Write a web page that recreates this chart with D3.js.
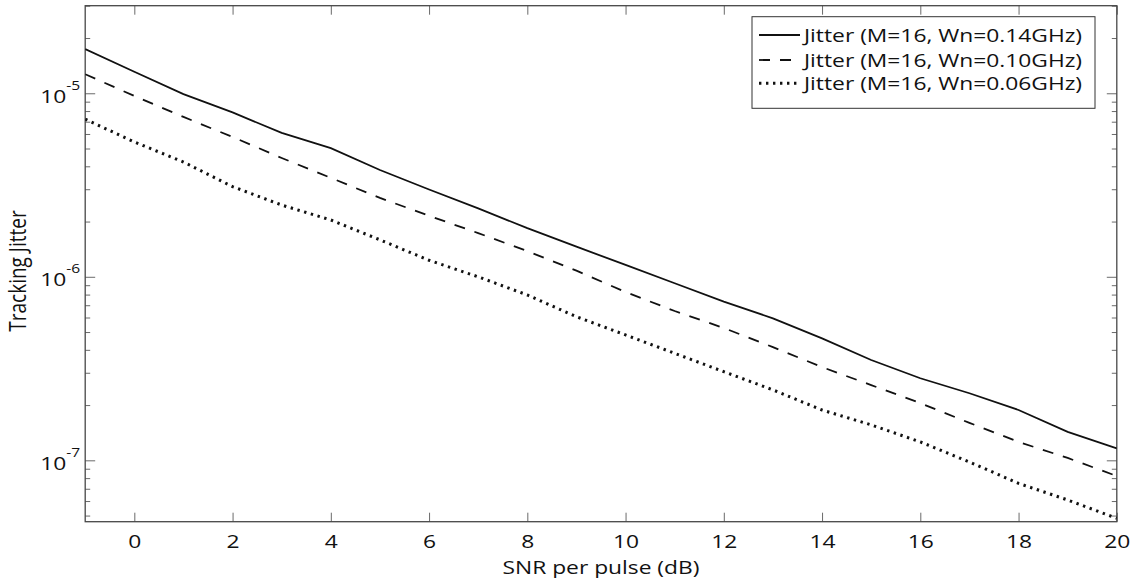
<!DOCTYPE html>
<html><head><meta charset="utf-8">
<script src="https://cdn.jsdelivr.net/npm/d3@7"></script>
<style>
body{margin:0;background:#fff}
svg{display:block}
text{font-family:"Open Sans",sans-serif;fill:#111}
</style>
</head><body>
<svg id="c" width="1139" height="583"></svg>
<script>
// ---- data ----
const snr = [-1,0,1,2,3,4,5,6,7,8,9,10,11,12,13,14,15,16,17,18,19,20];
const jitter014 = [1.74e-5,1.31e-5,9.9e-6,7.86e-6,6.08e-6,5.02e-6,3.82e-6,2.99e-6,2.36e-6,1.84e-6,1.46e-6,1.16e-6,9.22e-7,7.32e-7,5.94e-7,4.62e-7,3.52e-7,2.80e-7,2.32e-7,1.88e-7,1.43e-7,1.16e-7];
const jitter010 = [1.27e-5,9.67e-6,7.43e-6,5.78e-6,4.44e-6,3.46e-6,2.69e-6,2.15e-6,1.73e-6,1.38e-6,1.08e-6,8.26e-7,6.51e-7,5.26e-7,4.14e-7,3.22e-7,2.57e-7,2.05e-7,1.60e-7,1.26e-7,1.03e-7,8.21e-8];
const jitter006 = [7.22e-6,5.43e-6,4.22e-6,3.10e-6,2.46e-6,2.04e-6,1.59e-6,1.23e-6,1.00e-6,7.96e-7,6.06e-7,4.82e-7,3.83e-7,3.04e-7,2.42e-7,1.88e-7,1.56e-7,1.26e-7,9.79e-8,7.49e-8,6.08e-8,4.83e-8];
const seriesNames = ["Jitter (M=16, Wn=0.14GHz)","Jitter (M=16, Wn=0.10GHz)","Jitter (M=16, Wn=0.06GHz)"];
const xTicks = [0,2,4,6,8,10,12,14,16,18,20];
const yMajorTicks = [1e-7,1e-6,1e-5];
const yMajorExp = ["-7","-6","-5"];
const xDomain = [-1,20];
const yDomain = [4.63e-8,3e-5];
const xTitle = "SNR per pulse (dB)";
const yTitle = "Tracking Jitter";

// ---- layout ----
const L = 85.2, R = 1116.8, T = 5.7, B = 521.7;
const SX = 1.2; // horizontal text stretch
const svg = d3.select("#c");
const x = d3.scaleLinear().domain(xDomain).range([L,R]);
const y = d3.scaleLog().domain(yDomain).range([B,T]);

const yMinor = [];
for (let e=-8;e<=-4;e++) for (let m=1;m<=9;m++){
  const v = m*Math.pow(10,e);
  if (v>=yDomain[0]*0.999 && v<=yDomain[1]*1.001 && !yMajorTicks.some(t=>Math.abs(t-v)/v<1e-6)) yMinor.push(v);
}

const tickColor = "#6a6a6a";
function styleAxis(g){ g.select(".domain").remove(); g.selectAll(".tick line").attr("stroke",tickColor).attr("stroke-width",1); }

// x bottom
const gxb = svg.append("g").attr("transform",`translate(0,${B})`)
  .call(d3.axisBottom(x).tickValues(xTicks).tickSize(-9).tickPadding(13).tickFormat(d3.format("d")));
styleAxis(gxb);
gxb.selectAll(".tick text").attr("font-size",19).attr("font-family","'Open Sans',sans-serif").attr("fill","#111")
  .attr("transform",`scale(${SX},1)`);
// x top
const gxt = svg.append("g").attr("transform",`translate(0,${T})`)
  .call(d3.axisTop(x).tickValues(xTicks).tickSize(-9).tickFormat(""));
styleAxis(gxt);

// y left major
const gyl = svg.append("g").attr("transform",`translate(${L},0)`)
  .call(d3.axisLeft(y).tickValues(yMajorTicks).tickSize(-10).tickFormat(""));
styleAxis(gyl);
gyl.selectAll(".tick text").each(function(d,i){
  const t = d3.select(this).text(null).attr("x",0).attr("dy",null).attr("y",9)
    .attr("text-anchor","end").attr("font-size",19).attr("fill","#111")
    .attr("transform",`translate(-5,0) scale(${SX},1)`);
  t.append("tspan").text("10");
  t.append("tspan").attr("font-size",13).attr("dy",-13).text(yMajorExp[yMajorTicks.indexOf(d)]);
});
const gylm = svg.append("g").attr("transform",`translate(${L},0)`)
  .call(d3.axisLeft(y).tickValues(yMinor).tickSize(-5).tickFormat(""));
styleAxis(gylm);
// y right
const gyr = svg.append("g").attr("transform",`translate(${R},0)`)
  .call(d3.axisRight(y).tickValues(yMajorTicks).tickSize(-10).tickFormat(""));
styleAxis(gyr);
const gyrm = svg.append("g").attr("transform",`translate(${R},0)`)
  .call(d3.axisRight(y).tickValues(yMinor).tickSize(-5).tickFormat(""));
styleAxis(gyrm);

// box
svg.append("rect").attr("x",L).attr("y",T).attr("width",R-L).attr("height",B-T)
  .attr("fill","none").attr("stroke","#474747").attr("stroke-width",1.3);

// lines
svg.append("clipPath").attr("id","clip").append("rect").attr("x",L).attr("y",T).attr("width",R-L).attr("height",B-T);
const styles = [
  {dash:null, w:1.8},
  {dash:"11,10", w:1.8},
  {dash:"2.4,4.6", w:3}
];
const allSeries = [jitter014, jitter010, jitter006];
const line = d3.line().x((d,i)=>x(snr[i])).y(d=>y(d));
allSeries.forEach((s,k)=>{
  svg.append("path").datum(s).attr("d",line).attr("clip-path","url(#clip)")
    .attr("fill","none").attr("stroke","#111").attr("stroke-width",styles[k].w)
    .attr("stroke-dasharray",styles[k].dash);
});

// axis titles
svg.append("text").attr("text-anchor","middle").attr("font-size",19)
  .attr("transform",`translate(${(L+R)/2},574) scale(${SX},1)`).text(xTitle);
svg.append("text").attr("text-anchor","middle").attr("font-size",19)
  .attr("transform",`translate(26,271) scale(${SX},1) rotate(-90)`).text(yTitle);

// legend
const lg = svg.append("g");
const lgX = 752, lgY = 16.7, lgW = 1095-752, lgH = 91.6;
lg.append("rect").attr("x",lgX).attr("y",lgY).attr("width",lgW).attr("height",lgH)
  .attr("fill","#fff").attr("stroke","#333").attr("stroke-width",1);
const rowY = [35,60,83.3];
seriesNames.forEach((n,k)=>{
  lg.append("line").attr("x1",759).attr("x2",800).attr("y1",rowY[k]).attr("y2",rowY[k])
    .attr("stroke","#111").attr("stroke-width",styles[k].w).attr("stroke-dasharray",styles[k].dash);
  lg.append("text").attr("font-size",19).attr("transform",`translate(804,${rowY[k]+6.5}) scale(${SX},1)`).text(n);
});
</script>
</body></html>
